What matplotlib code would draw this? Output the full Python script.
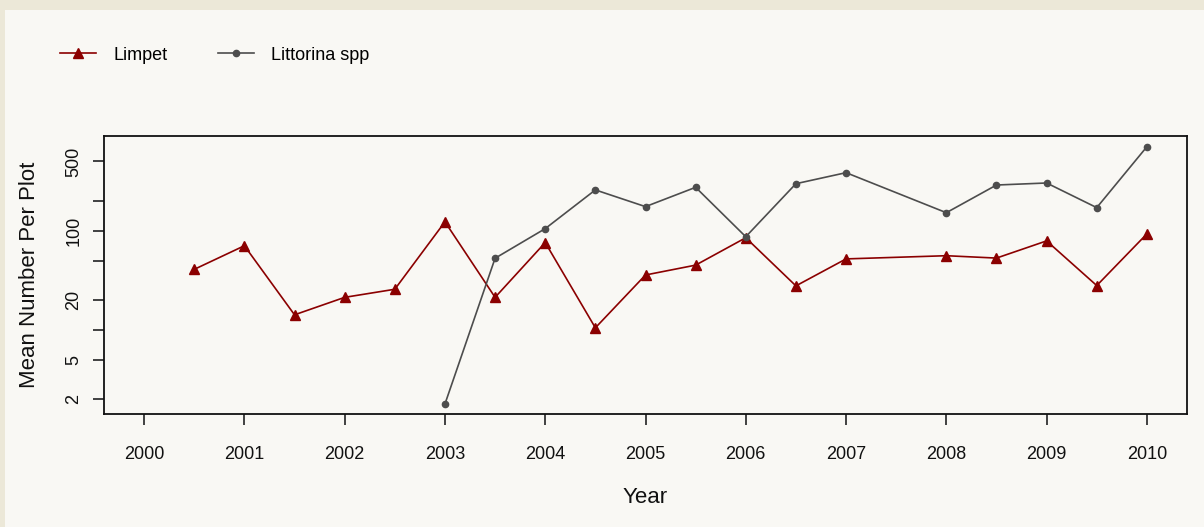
import matplotlib
matplotlib.use("Agg")
import matplotlib.pyplot as plt
from matplotlib.ticker import FixedLocator, FixedFormatter, NullLocator

plt.rcParams['font.family'] = ['Liberation Sans', 'DejaVu Sans']

# Data
limpet_years = [2000.5, 2001, 2001.5, 2002, 2002.5, 2003, 2003.5, 2004, 2004.5,
                2005, 2005.5, 2006, 2006.5, 2007, 2008, 2008.5, 2009, 2009.5, 2010]
limpet_vals = [40.8, 70.6, 14.2, 21.3, 25.7, 123, 21.3, 76, 10.5,
               35.8, 45, 85, 27.8, 52, 56, 53, 79, 28, 93]

litt_years = [2003, 2003.5, 2004, 2004.5, 2005, 2005.5, 2006, 2006.5, 2007,
              2008, 2008.5, 2009, 2009.5, 2010]
litt_vals = [1.79, 52.8, 105, 258, 175, 274, 87, 298, 385,
             152, 289, 303, 171, 703]

x_ticks = list(range(2000, 2011))
y_ticks = [2, 5, 10, 20, 50, 100, 200, 500]
y_ticklabels = ['2', '5', '', '20', '', '100', '', '500']

W, H = 1204, 527
fig = plt.figure(figsize=(W / 100, H / 100), dpi=100)
fig.patch.set_facecolor('#ECE8D8')
# inner panel background
fig.add_artist(plt.Rectangle((5 / W, 0), 1 - 5 / W, 1 - 10 / H, transform=fig.transFigure,
                             facecolor='#F9F8F4', edgecolor='none', zorder=0))

left, right, top, bottom = 104, 1187, 136, 414.3
ax = fig.add_axes([left / W, 1 - bottom / H, (right - left) / W, (bottom - top) / H])
ax.set_facecolor('#F9F8F4')

ax.plot(limpet_years, limpet_vals, color='#8B0000', lw=1.2, marker='^', ms=7.5,
        mec='#8B0000', mfc='#8B0000', label='Limpet', zorder=3)
ax.plot(litt_years, litt_vals, color='#4D4D4D', lw=1.2, marker='o', ms=4.5,
        mec='#4D4D4D', mfc='#4D4D4D', label='Littorina spp', zorder=3)

ax.set_yscale('log')
ax.set_xlim(1999.6, 2010.4)
ax.set_ylim(1.41, 902)
ax.yaxis.set_major_locator(FixedLocator(y_ticks))
ax.yaxis.set_major_formatter(FixedFormatter(y_ticklabels))
ax.yaxis.set_minor_locator(NullLocator())
ax.set_xticks(x_ticks)
ax.set_xticklabels([str(y) for y in x_ticks])

for s in ax.spines.values():
    s.set_linewidth(1.3)
    s.set_color('#111111')

ax.tick_params(axis='both', direction='out', length=8, width=1.2, color='#222222',
               labelsize=13, labelcolor='#111111')
ax.tick_params(axis='x', pad=14.5)
ax.tick_params(axis='y', pad=7.5)
for lab in ax.get_yticklabels():
    lab.set_rotation(90)
    lab.set_va('center')

ax.set_xlabel('Year', fontsize=16, color='#111111')
ax.set_ylabel('Mean Number Per Plot', fontsize=16, color='#111111')
ax.xaxis.set_label_coords(0.5, -0.26)
ax.yaxis.set_label_coords(-0.059, 0.5)

fig.legend(loc='center left', bbox_to_anchor=(60 / W, 1 - 55 / H), ncol=2, frameon=False,
           fontsize=13, handlelength=2.0, handletextpad=0.95, columnspacing=2.8,
           borderpad=0, borderaxespad=0)

fig.savefig('out.png', dpi=100, facecolor=fig.get_facecolor())
